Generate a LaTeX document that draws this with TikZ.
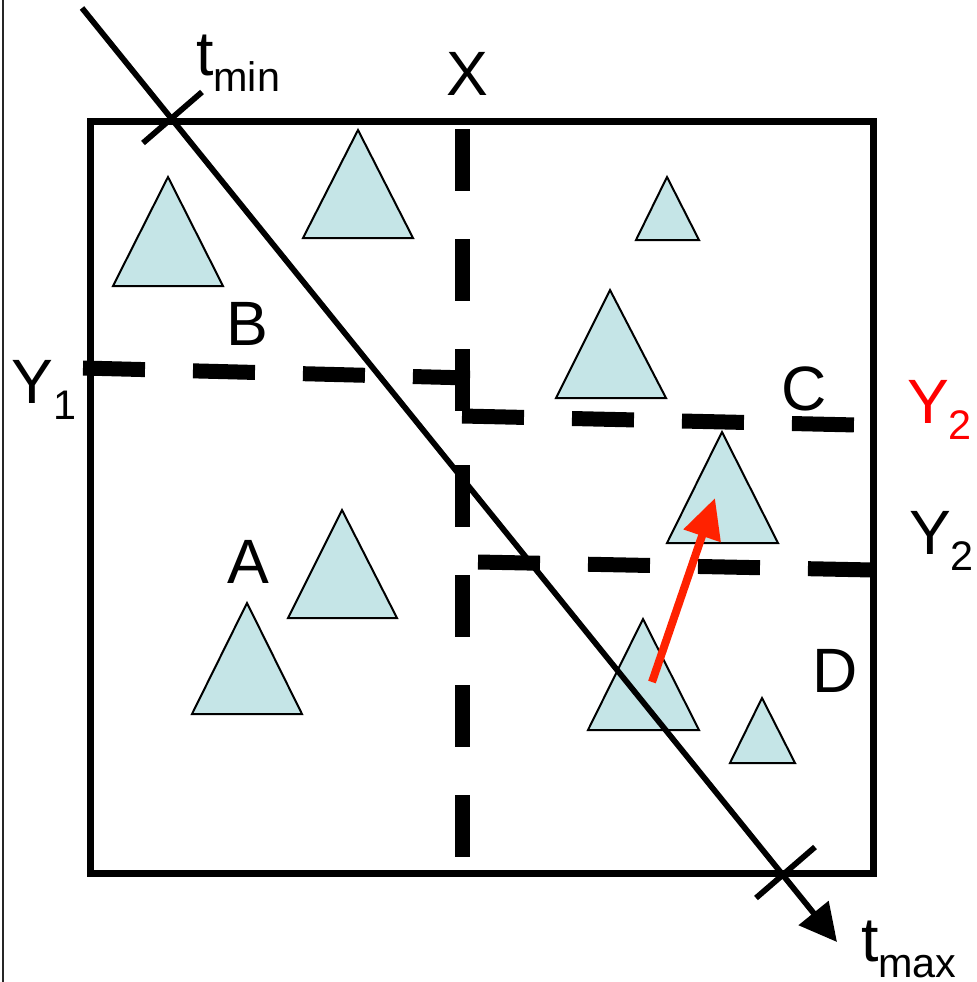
\documentclass[tikz,border=0pt]{standalone}
\usepackage{fontspec}
\setmainfont{Liberation Sans}
\usetikzlibrary{arrows.meta}
\definecolor{triblue}{RGB}{197,229,231}
\definecolor{arrred}{RGB}{255,34,0}
\newcommand{\labsub}[2]{#1\raisebox{-12pt}{\fontsize{31pt}{31pt}\selectfont #2}}
\begin{document}
\begin{tikzpicture}[x=0.75pt,y=-0.75pt,
  boxline/.style={line width=5.25pt,line join=miter},
  tline/.style={line width=4.3pt},
  split/.style={line width=11.25pt,dash pattern=on 46.5pt off 36pt},
  tri/.style={draw=black,line width=1.5pt,fill=triblue,line join=miter},
  lab/.style={inner sep=0pt,outer sep=0pt,anchor=base west,font=\fontsize{47pt}{47pt}\selectfont}]
\useasboundingbox (0,0) rectangle (977,982);
% thin left rule
\draw[line width=1.5pt,black!85] (3,0) -- (3,982);
% triangles
\draw[tri] (168,177) -- (113,286) -- (223,286) -- cycle;
\draw[tri] (358,130) -- (303,238) -- (413,238) -- cycle;
\draw[tri] (667,177) -- (636,240) -- (699,240) -- cycle;
\draw[tri] (610,290) -- (556,398) -- (666,398) -- cycle;
\draw[tri] (722,432) -- (667,543) -- (778,543) -- cycle;
\draw[tri] (342,510) -- (288,618) -- (397,618) -- cycle;
\draw[tri] (247,603) -- (192,714) -- (302,714) -- cycle;
\draw[tri] (643,619) -- (588,730) -- (699,730) -- cycle;
\draw[tri] (762,698) -- (730,763) -- (795,763) -- cycle;
% box
\draw[boxline] (90,121) rectangle (873,873);
% split lines
\coordinate (y1a) at (83,368);   \coordinate (y1b) at (470,378);
\coordinate (xua) at (462,129);  \coordinate (xub) at (462,413);
\coordinate (y2ua) at (462,416); \coordinate (y2ub) at (857,425);
\coordinate (xla) at (462,465);  \coordinate (xlb) at (462,857);
\coordinate (y2la) at (478,562); \coordinate (y2lb) at (873,570);
\draw[split] (y1a) -- (y1b);
\draw[split] (xua) -- (xub);
\draw[split] (y2ua) -- (y2ub);
\draw[split] (xla) -- (xlb);
\draw[split] (y2la) -- (y2lb);
% ray
\coordinate (rs) at (82,8);
\coordinate (re) at (837,942);
\draw[tline,-{Triangle[length=28pt,width=28pt]}] (rs) -- (re);
\coordinate (t1a) at (143,143); \coordinate (t1b) at (202,92);
\coordinate (t2a) at (756,898); \coordinate (t2b) at (815,847);
\draw[tline] (t1a) -- (t1b);
\draw[tline] (t2a) -- (t2b);
% red arrow
\coordinate (ra) at (652,682);
\coordinate (rb) at (715,498);
\draw[arrred,line width=6pt,-{Triangle[length=30pt,width=28pt]}] (ra) -- (rb);
% labels
\node[lab] (tmin) at (196,75) {\labsub{t}{min}};
\node[lab] (X) at (446,95) {X};
\node[lab] (B) at (226,345) {B};
\node[lab] (Y1) at (12,403) {\labsub{Y}{1}};
\node[lab] (C) at (781,410) {C};
\node[lab,text=red] (Y2r) at (907,423) {\labsub{Y}{2}};
\node[lab] (Y2b) at (909,554) {\labsub{Y}{2}};
\node[lab] (A) at (227,583) {A};
\node[lab] (D) at (812,692) {D};
\node[lab] (tmax) at (861,961) {\labsub{t}{max}};
\end{tikzpicture}
\end{document}
